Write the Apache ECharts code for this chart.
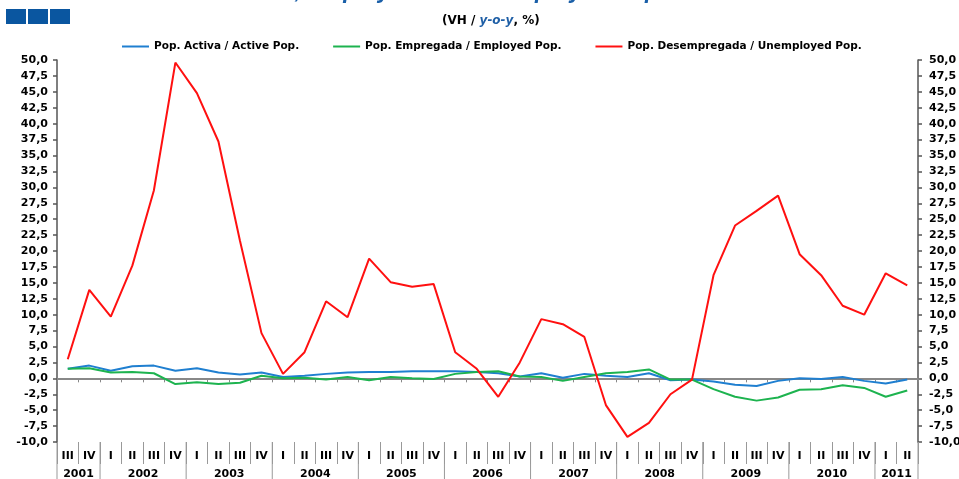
<!DOCTYPE html>
<html>
<head>
<meta charset="utf-8">
<script src="https://cdn.jsdelivr.net/npm/echarts@6/dist/echarts.min.js"></script>
<style>
  html, body { margin: 0; padding: 0; background: #fff; }
  #chart { width: 959px; height: 479px; }
</style>
</head>
<body>
<div id="chart"></div>
<script>
// quarter labels, 2001 III .. 2011 II
const quarters = [
  'III', 'IV',
  'I', 'II', 'III', 'IV', 'I', 'II', 'III', 'IV', 'I', 'II', 'III', 'IV',
  'I', 'II', 'III', 'IV', 'I', 'II', 'III', 'IV', 'I', 'II', 'III', 'IV',
  'I', 'II', 'III', 'IV', 'I', 'II', 'III', 'IV', 'I', 'II', 'III', 'IV',
  'I', 'II'
];
const years = ['2001', '2002', '2003', '2004', '2005', '2006', '2007', '2008', '2009', '2010', '2011'];
const quartersPerYear = [2, 4, 4, 4, 4, 4, 4, 4, 4, 4, 2];

// VH y-o-y %
const activePop = [1.5, 2.0, 1.2, 1.9, 2.0, 1.2, 1.6, 0.9, 0.6, 0.9, 0.2, 0.4, 0.7, 0.9, 1.0, 1.0, 1.1, 1.1, 1.1, 1.0,
  0.8, 0.3, 0.8, 0.1, 0.7, 0.4, 0.2, 0.8, -0.3, -0.2, -0.5, -1.0, -1.2, -0.4, 0.0, -0.1, 0.2, -0.4, -0.8, -0.2];
const employedPop = [1.5, 1.6, 0.9, 1.0, 0.8, -0.9, -0.6, -0.9, -0.7, 0.4, 0.0, 0.1, -0.2, 0.2, -0.3, 0.2, 0.0, -0.1, 0.7, 1.0,
  1.1, 0.3, 0.2, -0.4, 0.2, 0.8, 1.0, 1.4, -0.2, -0.2, -1.7, -2.9, -3.5, -3.0, -1.8, -1.7, -1.1, -1.5, -2.9, -1.9];
const unemployedPop = [3.0, 13.9, 9.7, 17.7, 29.5, 49.6, 44.8, 37.2, 21.6, 7.1, 0.7, 4.1, 12.1, 9.6, 18.8, 15.1, 14.4, 14.8, 4.1, 1.5,
  -2.9, 2.5, 9.3, 8.5, 6.5, -4.2, -9.2, -7.0, -2.5, -0.2, 16.2, 24.0, 26.3, 28.7, 19.5, 16.2, 11.4, 10.0, 16.5, 14.6];

const seriesNames = ['Pop. Activa / Active Pop.', 'Pop. Empregada / Employed Pop.', 'Pop. Desempregada / Unemployed Pop.'];
const titleText = 'Active, Employed and Unemployed Population';

const font = 'DejaVu Sans, Verdana, sans-serif';
const lbl = { color: '#000', fontWeight: 'bold', fontSize: 11, fontFamily: font };
const fmt = v => v.toFixed(1).replace('.', ',');

const chart = echarts.init(document.getElementById('chart'));

const yAxisBase = {
  type: 'value',
  min: -10,
  max: 50,
  interval: 2.5,
  splitLine: { show: false },
  axisLine: { show: true, lineStyle: { color: '#555', width: 1.5 } },
  axisTick: { show: true, length: 4, lineStyle: { color: '#555', width: 1.5 } },
  axisLabel: Object.assign({ formatter: fmt, margin: 9 }, lbl)
};

chart.setOption({
  animation: false,
  backgroundColor: '#fff',
  textStyle: { fontFamily: font },
  title: {
    left: 437,
    top: 10,
    text: '{a|(VH / }{b|y-o-y}{a|, %)}',
    textStyle: {
      rich: {
        a: { fontSize: 12, fontWeight: 'bold', color: '#000', fontFamily: font },
        b: { fontSize: 12, fontWeight: 'bold', fontStyle: 'italic', color: '#1f5fa6', fontFamily: font }
      }
    }
  },
  legend: {
    top: 36,
    left: 117,
    icon: 'rect',
    itemWidth: 27,
    itemHeight: 2,
    itemGap: 34,
    textStyle: Object.assign({}, lbl, { fontSize: 10.5 }),
    data: seriesNames
  },
  grid: { left: 57, right: 41, top: 60, bottom: 37, outerBoundsMode: 'none', containLabel: false },
  xAxis: [
    {
      type: 'category',
      data: quarters,
      boundaryGap: true,
      axisLine: { onZero: true, lineStyle: { color: '#888', width: 2 } },
      axisTick: { show: true, interval: 0, length: 4, lineStyle: { color: '#888' } },
      axisLabel: { show: false }
    },
    {
      type: 'category',
      data: quarters,
      position: 'bottom',
      boundaryGap: true,
      axisLine: { show: false, onZero: false },
      axisTick: { show: true, interval: 0, length: 22, lineStyle: { color: '#999' } },
      axisLabel: Object.assign({ interval: 0, margin: 9 }, lbl)
    }
  ],
  yAxis: [
    Object.assign({ position: 'left' }, yAxisBase),
    Object.assign({ position: 'right' }, yAxisBase, {
      axisLabel: Object.assign({ formatter: fmt, margin: 11 }, lbl)
    })
  ],
  series: [
    { name: seriesNames[0], type: 'line', data: activePop, symbol: 'none', color: '#1f7fd0', lineStyle: { width: 2 } },
    { name: seriesNames[1], type: 'line', data: employedPop, symbol: 'none', color: '#1db34f', lineStyle: { width: 2 } },
    { name: seriesNames[2], type: 'line', data: unemployedPop, symbol: 'none', color: '#ff1010', lineStyle: { width: 2 } }
  ]
});

// year row below the quarters, placed from the category axis
const p0 = chart.convertToPixel({ xAxisIndex: 0 }, 0);
const step = chart.convertToPixel({ xAxisIndex: 0 }, 1) - p0;
const edge = i => p0 + (i - 0.5) * step;
const graphics = [];
let start = 0;
years.forEach((y, k) => {
  const end = start + quartersPerYear[k];
  graphics.push({
    type: 'line', silent: true,
    shape: { x1: edge(start), y1: 442, x2: edge(start), y2: 479 },
    style: { stroke: '#999', lineWidth: 1 }
  });
  graphics.push({
    type: 'text', silent: true,
    x: (edge(start) + edge(end)) / 2, y: 474,
    style: { text: y, align: 'center', verticalAlign: 'middle', fill: '#000', font: 'bold 11px ' + font }
  });
  start = end;
});
graphics.push({
  type: 'line', silent: true,
  shape: { x1: edge(start), y1: 442, x2: edge(start), y2: 479 },
  style: { stroke: '#999', lineWidth: 1 }
});
// three blue squares top left
[6, 28, 50].forEach(x => {
  graphics.push({ type: 'rect', silent: true, shape: { x: x, y: 9, width: 20, height: 15 }, style: { fill: '#0a56a0' } });
});
// main title, mostly cut off by the top edge
graphics.push({
  type: 'text', silent: true, x: 480, y: 3,
  style: { text: titleText, align: 'center', verticalAlign: 'bottom', fill: '#1a5fa8', font: 'italic bold 23px Liberation Sans, Arial, sans-serif' }
});
chart.setOption({ graphic: graphics });
</script>
</body>
</html>
